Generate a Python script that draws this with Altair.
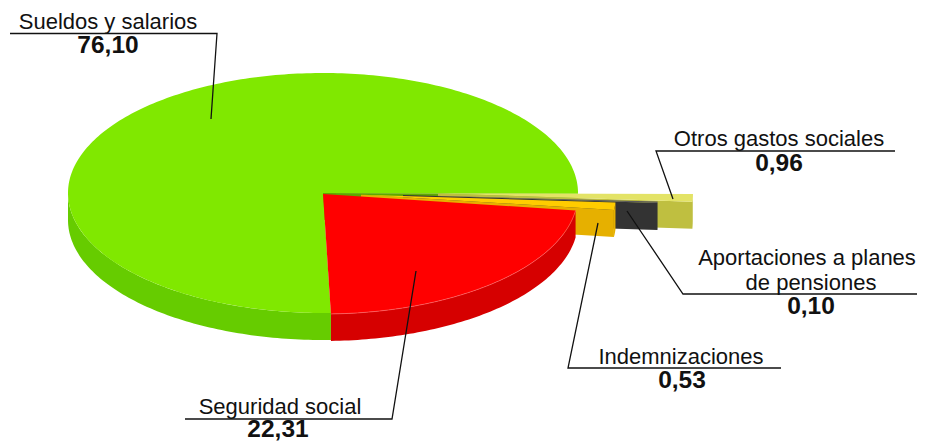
import math
import altair as alt

# ---- chart values, in the order they run clockwise round the pie ----
categories = ["Otros gastos sociales", "Aportaciones a planes de pensiones",
              "Indemnizaciones", "Seguridad social", "Sueldos y salarios"]
values = [0.96, 0.10, 0.53, 22.31, 76.10]
top_colors = ["#E3E366", "#5A5A5A", "#FFCC00", "#FF0000", "#80E800"]
wall_colors = ["#BFBF40", "#333333", "#E6B000", "#D60000", "#66CC00"]
inner_green = "#5FA800"
rim_red = "#FF7070"

# ---- pie geometry, in units of the pie's radius ----
W, H = 909, 433
RADIUS = 255
CENTER = (315, 185)
TILT = 120 / 255
DEPTH = 27 / 255
RED_START = 97.9
GREEN_END = 90.3
EXPLODE = [(115 / 255, 0.5 / 255), (80 / 255, 2 / 255), (38 / 255, 1.7 / 255), (0, 1 / 255), (0, 0)]

# the three slivers are drawn wider than their share, as the reference's perspective shows them
SLIVER_SPANS = [(90.2, 94.0), (93.1, 93.8), (93.7, 97.3)]

total = sum(values)
red_end = RED_START + values[3] / total * 360
green_end = red_end + values[4] / total * 360
spans = SLIVER_SPANS + [(RED_START, red_end), (red_end, GREEN_END + 360)]


def pt(theta, off=(0, 0), drop=0.0):
    t = math.radians(theta)
    return [math.sin(t) + off[0], -math.cos(t) * TILT + off[1] + drop]


def arc(a, b, off=(0, 0), drop=0.0, step=1.0):
    n = max(2, int(abs(b - a) / step) + 1)
    return [pt(a + (b - a) * i / (n - 1), off, drop) for i in range(n)]


def feature(ring, color):
    return {"type": "Feature",
            "properties": {"c": color},
            "geometry": {"type": "Polygon", "coordinates": [ring + [ring[0]]]}}


features = []


def top(i):
    a, b = spans[i]
    off = EXPLODE[i]
    return feature([list(off)] + arc(a, b, off), top_colors[i])


def outer_wall(i, a, b):
    off = EXPLODE[i]
    return feature(arc(a, b, off) + arc(b, a, off, DEPTH), wall_colors[i])


# Sueldos y salarios at the back: front-left rim, cut face seen through the gap, top
g = 4
features.append(outer_wall(g, spans[g][0], 270))
g_edge = pt(GREEN_END)
features.append(feature([[0, 0], g_edge, [g_edge[0], g_edge[1] + DEPTH], [0, DEPTH]], inner_green))
features.append(top(g))

# exploded slivers, back to front
for i in range(3):
    off = EXPLODE[i]
    b = spans[i][1]
    edge = pt(b, off)
    features.append(feature([list(off), edge, [edge[0], edge[1] + DEPTH], [off[0], off[1] + DEPTH]],
                            wall_colors[i]))
    features.append(outer_wall(i, spans[i][0], b))
    features.append(top(i))

# Seguridad social in front
r = 3
features.append(outer_wall(r, spans[r][0], spans[r][1]))
features.append(top(r))

pie = alt.Chart(alt.InlineData(
    values={"type": "FeatureCollection", "features": features},
    format=alt.DataFormat(property="features", type="json"),
)).mark_geoshape(strokeWidth=0).encode(
    color=alt.Color("properties.c:N", scale=None, legend=None)
).project(type="identity", scale=RADIUS, translate=list(CENTER))

rim = alt.Chart(alt.InlineData(
    values={"type": "FeatureCollection", "features": [{
        "type": "Feature", "properties": {},
        "geometry": {"type": "LineString", "coordinates": arc(spans[r][0], spans[r][1], EXPLODE[r])},
    }]},
    format=alt.DataFormat(property="features", type="json"),
)).mark_geoshape(filled=False, stroke=rim_red, strokeWidth=0.6).project(
    type="identity", scale=RADIUS, translate=list(CENTER)
)

# ---- leader lines (image position less the 8px page margin) ----
M = 8
leaders = [
    [(10, 33.5), (217, 33.5), (211, 119)],
    [(895, 151), (656, 151), (673, 199)],
    [(925, 294), (683, 294), (627, 211)],
    [(781, 368), (568, 368), (598, 223)],
    [(185, 419), (392, 419), (416, 271)],
]
line_rows = []
for k, path in enumerate(leaders):
    for o, (x, y) in enumerate(path):
        line_rows.append({"k": k, "o": o, "x": x - M, "y": y - M})

lines = alt.Chart(alt.Data(values=line_rows)).mark_line(color="#111111", strokeWidth=1.3).encode(
    x=alt.X("x:Q", scale=None, axis=None),
    y=alt.Y("y:Q", scale=None, axis=None),
    detail="k:N",
    order="o:Q",
)


# ---- labels ----
def fmt(v):
    return f"{v:.2f}".replace(".", ",")


label_rows = [
    {"t": "Sueldos y salarios", "x": 108, "y": 29, "b": 0},
    {"t": fmt(values[4]), "x": 108, "y": 53, "b": 1},
    {"t": "Otros gastos sociales", "x": 779, "y": 146, "b": 0},
    {"t": fmt(values[0]), "x": 779, "y": 171, "b": 1},
    {"t": "Aportaciones a planes", "x": 807, "y": 265, "b": 0},
    {"t": "de pensiones", "x": 811, "y": 290, "b": 0},
    {"t": fmt(values[1]), "x": 811, "y": 314, "b": 1},
    {"t": "Indemnizaciones", "x": 681, "y": 364, "b": 0},
    {"t": fmt(values[2]), "x": 682, "y": 388, "b": 1},
    {"t": "Seguridad social", "x": 280, "y": 414, "b": 0},
    {"t": fmt(values[3]), "x": 278, "y": 436.5, "b": 1},
]
for row in label_rows:
    row["x"] -= M
    row["y"] -= M


def text_layer(bold, size, weight):
    return alt.Chart(alt.Data(values=[r for r in label_rows if r["b"] == bold])).mark_text(
        font="Liberation Sans", fontSize=size, fontWeight=weight, align="center",
        baseline="alphabetic", color="#111111",
    ).encode(
        x=alt.X("x:Q", scale=None, axis=None),
        y=alt.Y("y:Q", scale=None, axis=None),
        text="t:N",
    )


chart = alt.layer(pie, rim, lines, text_layer(0, 22, "normal"), text_layer(1, 24.5, "bold")).properties(
    width=W, height=H, padding=0,
    autosize=alt.AutoSizeParams(type="none"),
).configure_view(strokeWidth=0)

chart.save("out.html", embed_options={"renderer": "svg", "actions": False})
